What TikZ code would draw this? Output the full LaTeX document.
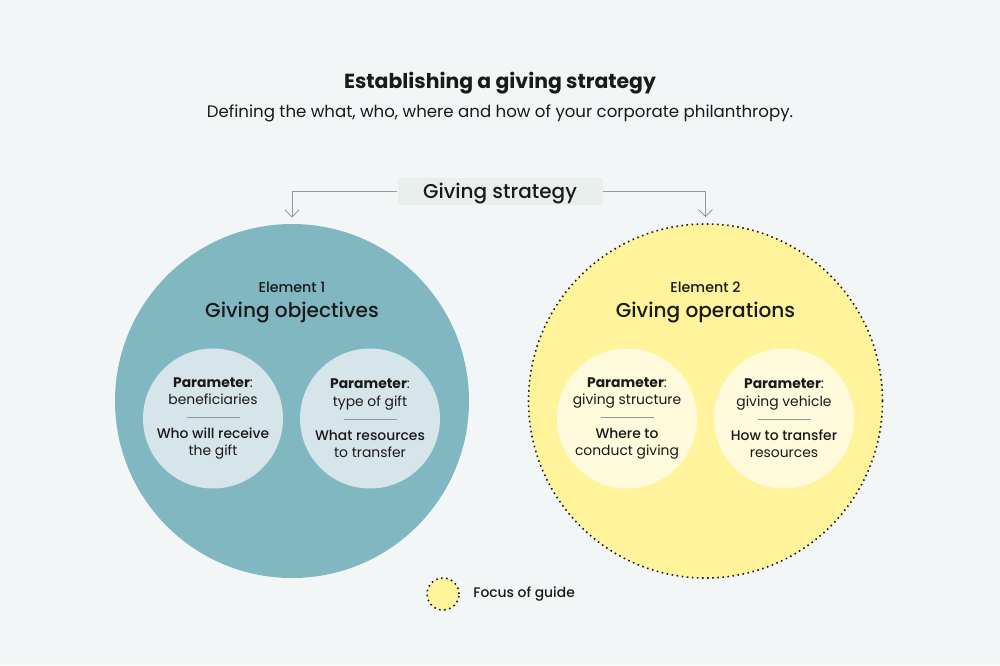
\documentclass[tikz,border=0pt]{standalone}
\usepackage{fontspec}
\setmainfont{Poppins}
\newfontfamily\gsmedium{Poppins Medium}
\usetikzlibrary{arrows.meta,positioning}
\definecolor{gsbg}{HTML}{F3F6F7}
\definecolor{gsink}{HTML}{1A1A1A}
\definecolor{gsteal}{HTML}{80B7C1}
\definecolor{gstealpale}{HTML}{D6E5EA}
\definecolor{gsyellow}{HTML}{FFF39B}
\definecolor{gsyellowpale}{HTML}{FFFADB}
\definecolor{gsbox}{HTML}{E8EFEC}
\definecolor{gsline}{HTML}{8C9A9D}

\begin{document}
\begin{tikzpicture}[
  font=\small, text=gsink,
  >={Straight Barb[length=1.4mm,width=2.8mm]},
  big/.style={circle, minimum size=70.8mm, inner sep=0pt},
  par/.style={circle, minimum size=28mm, inner sep=0pt, align=center,
              font=\fontsize{7.9}{9.8}\selectfont},
  head/.style={align=center, inner sep=0pt, anchor=base},
  focus/.style={draw=gsink, dotted, line width=0.9pt},
  conn/.style={draw=gsline, line width=0.5pt},
]

% ---- canvas ----
\fill[gsbg] (0,0) rectangle (20,-13.3);
\useasboundingbox (0,0) rectangle (20,-13.3);

\newcommand{\paramnode}[5]{\node[par,fill=#3] (#1) at #2
  {\textbf{Parameter}:\\#4\\
   \textcolor{gsline}{\rule[0.5ex]{10.6mm}{0.4pt}}\\\gsmedium #5};}

% ---- title ----
\node[head, font=\fontsize{11.6}{13}\selectfont\bfseries] (title) at (10,-1.76)
  {Establishing a giving strategy};
\node[head, font=\fontsize{9.45}{11}\selectfont] (subtitle) at (10,-2.35)
  {Defining the what, who, where and how of your corporate philanthropy.};

% ---- root box ----
\node[fill=gsbox, minimum width=41mm, minimum height=5.4mm, inner sep=0pt,
      text height=8pt, text depth=0pt,
      font=\fontsize{11.4}{13}\selectfont\gsmedium] (strategy) at (10,-3.83) {Giving strategy};

% ---- elements ----
\node[big, fill=gsteal] (obj) at (5.84,-8.02) {};
\node[big, fill=gsyellow, focus] (ops) at (14.11,-8.02) {};

\node[head, font=\fontsize{8.1}{9}\selectfont\gsmedium] (objnum) at (5.84,-5.84) {Element 1};
\node[head, font=\fontsize{11.45}{13}\selectfont\gsmedium] (objname) at (5.84,-6.35) {Giving objectives};
\node[head, font=\fontsize{8.1}{9}\selectfont\gsmedium] (opsnum) at (14.11,-5.84) {Element 2};
\node[head, font=\fontsize{11.45}{13}\selectfont\gsmedium] (opsname) at (14.11,-6.35) {Giving operations};

% ---- parameters ----
\paramnode{benef}{(4.26,-8.37)}{gstealpale}{beneficiaries}{Who will receive\\the gift}
\paramnode{gift}{(7.40,-8.37)}{gstealpale}{type of gift}{What resources\\to transfer}
\paramnode{struct}{(12.54,-8.37)}{gsyellowpale}{giving structure}{Where to\\conduct giving}
\paramnode{vehicle}{(15.68,-8.37)}{gsyellowpale}{giving vehicle}{How to transfer\\resources}

% ---- edges strategy -> elements ----
\draw[conn,->] (strategy.west) -| ([yshift=1.2mm]obj.north);
\draw[conn,->] (strategy.east) -| ([yshift=1.2mm]ops.north);

% ---- legend ----
\node[circle, minimum size=6.4mm, inner sep=0pt, fill=gsyellow, focus] (key) at (8.86,-11.88) {};
\node[anchor=west, inner sep=0pt, font=\fontsize{7.9}{9}\selectfont\gsmedium] (keytext) at (9.46,-11.88) {Focus of guide};

\end{tikzpicture}
\end{document}
